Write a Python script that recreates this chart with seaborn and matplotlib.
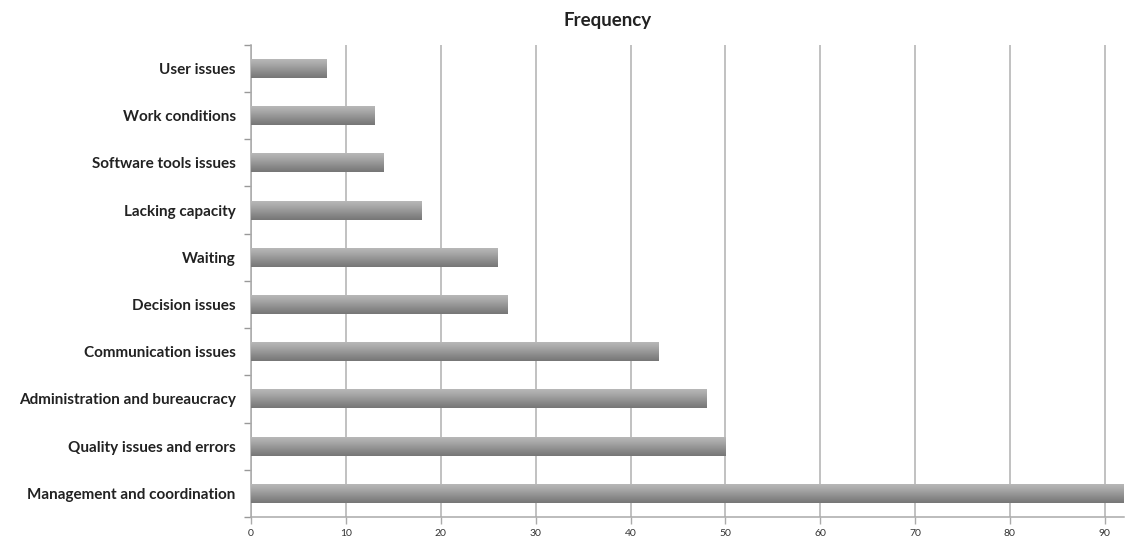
import matplotlib.pyplot as plt
import numpy as np
import pandas as pd
import seaborn as sns
from matplotlib.colors import LinearSegmentedColormap

categories = ['User issues', 'Work conditions', 'Software tools issues', 'Lacking capacity',
              'Waiting', 'Decision issues', 'Communication issues',
              'Administration and bureaucracy', 'Quality issues and errors',
              'Management and coordination']
frequency = [8, 13, 14, 18, 26, 27, 43, 48, 50, 92]
x_ticks = [0, 10, 20, 30, 40, 50, 60, 70, 80, 90]

df = pd.DataFrame({'category': categories, 'frequency': frequency})

sns.set_style('white')
plt.rcParams['font.family'] = ['Lato', 'DejaVu Sans']

fig = plt.figure(figsize=(11.26, 5.47), dpi=100)
ax = fig.add_axes([0.223, 0.055, 0.775, 0.863])

sns.barplot(data=df, x='frequency', y='category', orient='h', color='#9a9a9a',
            width=0.4, ax=ax, zorder=3)

# gradient fill like the old office charts: light on top, dark at the bottom
cmap = LinearSegmentedColormap.from_list('bar', ['#b8b8b8', '#a4a4a4', '#8c8c8c', '#767676'])
grad = np.linspace(0, 1, 64).reshape(-1, 1)
for p in ax.patches:
    x0, y0 = p.get_x(), p.get_y()
    w, h = p.get_width(), p.get_height()
    im = ax.imshow(grad, cmap=cmap, aspect='auto', extent=[x0, x0 + w, y0 + h, y0],
                   origin='upper', zorder=4)
    im.set_clip_path(p)
    p.set_edgecolor('none')

ax.set_xlim(0, 92)
ax.set_ylim(len(categories) - 0.5, -0.5)
ax.set_xticks(x_ticks)
ax.set_xticklabels([str(t) for t in x_ticks], fontsize=7.5, color='#333333')
ax.set_yticks(range(len(categories)))
ax.set_yticklabels(categories, fontsize=11, fontweight='bold', color='#222222')
ax.set_yticks(np.arange(-0.5, len(categories), 1), minor=True)
ax.tick_params(axis='y', which='major', left=False, length=0, pad=11)
ax.tick_params(axis='y', which='minor', left=True, length=5, width=1, color='#999999', direction='out')
ax.tick_params(axis='x', bottom=True, length=5, width=1, color='#aaaaaa', direction='out', pad=4)

ax.grid(axis='x', color='#b0b0b0', linewidth=1.1, zorder=0)
ax.set_axisbelow(True)
for s in ['top', 'right']:
    ax.spines[s].set_visible(False)
for s in ['left', 'bottom']:
    ax.spines[s].set_color('#aaaaaa')
    ax.spines[s].set_linewidth(1.1)

ax.set_xlabel('')
ax.set_ylabel('')
fig.suptitle('Frequency', fontsize=13.5, fontweight='bold', x=0.54, y=0.978, color='#222222')

plt.savefig('out.png', dpi=100)
